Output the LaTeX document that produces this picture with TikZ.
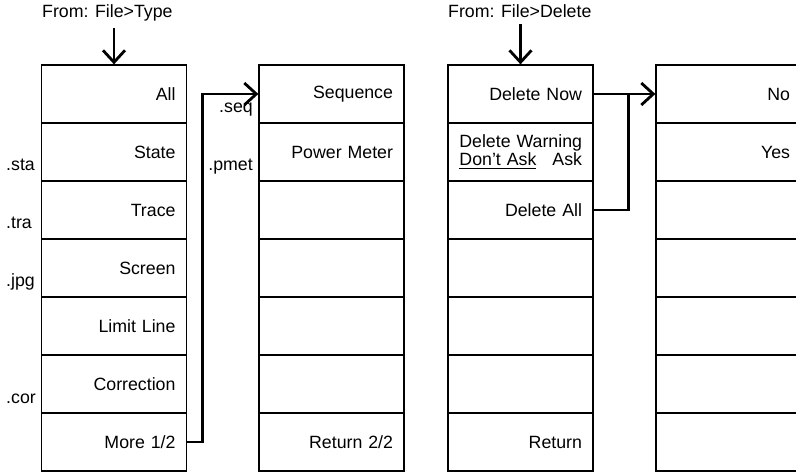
\documentclass[tikz,border=0pt]{standalone}
\usepackage{fontspec}
\setmainfont{Liberation Sans}
\usetikzlibrary{arrows.meta}
\tikzset{
  cell/.style={draw, line width=0.7pt, minimum width=2.9cm, minimum height=1.16cm,
    inner xsep=0.22cm, text width=2.46cm, align=right,
    font=\fontsize{10.1}{10.2}\selectfont},
  ext/.style={font=\fontsize{10.1}{10.2}\selectfont},
  link/.style={line width=1.6pt, -{Straight Barb[length=0.24cm, width=0.44cm]}},
  joint/.style={line width=1.6pt}
}

\begin{document}
\begin{tikzpicture}
\useasboundingbox (0,0) rectangle (15.92,9.46);
\clip (0,0) rectangle (15.92,9.46);

% File type menu
\node[ext, anchor=base west] (ftype) at (0.72, 9.10) {From: File>Type};
\foreach \lbl [count=\i] in {All, State, Trace, Screen, Limit Line, Correction, More 1/2} {
    \node[cell] (t\i) at (2.28, {8.74-1.16*\i}) {\lbl};
}
\node[ext, anchor=base west] (sta) at (0, 6.04) {.sta};
\node[ext, anchor=base west] (tra) at (0, 4.88) {.tra};
\node[ext, anchor=base west] (jpg) at (0, 3.72) {.jpg};
\node[ext, anchor=base west] (cor) at (0, 1.40) {.cor};

% Second page
\foreach \lbl [count=\i] in {Sequence, Power Meter, {}, {}, {}, {}, Return 2/2} {
    \node[cell] (m\i) at (6.63, {8.74-1.16*\i}) {\lbl};
}
\node[ext, anchor=base east] (seq) at (5.18, 7.20) {.seq};
\node[ext, anchor=base east] (pmet) at (5.18, 6.04) {.pmet};

% Delete menu
\node[ext, anchor=base west] (fdel) at (8.84, 9.10) {From: File>Delete};
\foreach \lbl [count=\i] in {Delete Now, {Delete Warning\\\underline{Don’t Ask}\hspace{0.32cm}Ask}, Delete All, {}, {}, {}, Return} {
    \node[cell] (d\i) at (10.41, {8.74-1.16*\i}) {\lbl};
}

% Confirm
\foreach \lbl [count=\i] in {No, Yes, {}, {}, {}, {}, {}} {
    \node[cell] (c\i) at (14.57, {8.74-1.16*\i}) {\lbl};
}

% Connectors
\draw[link] (ftype.south -| t1.north) -- (t1.north);
\draw[link] (fdel.south -| d1.north) -- (d1.north);
\draw[link] (t7.east) -- ++(0.3,0) |- (m1.west);
\draw[link] (d1.east) -- (c1.west);
\draw[joint] (d3.east) -| ([xshift=0.7cm]d1.east);
\end{tikzpicture}
\end{document}
